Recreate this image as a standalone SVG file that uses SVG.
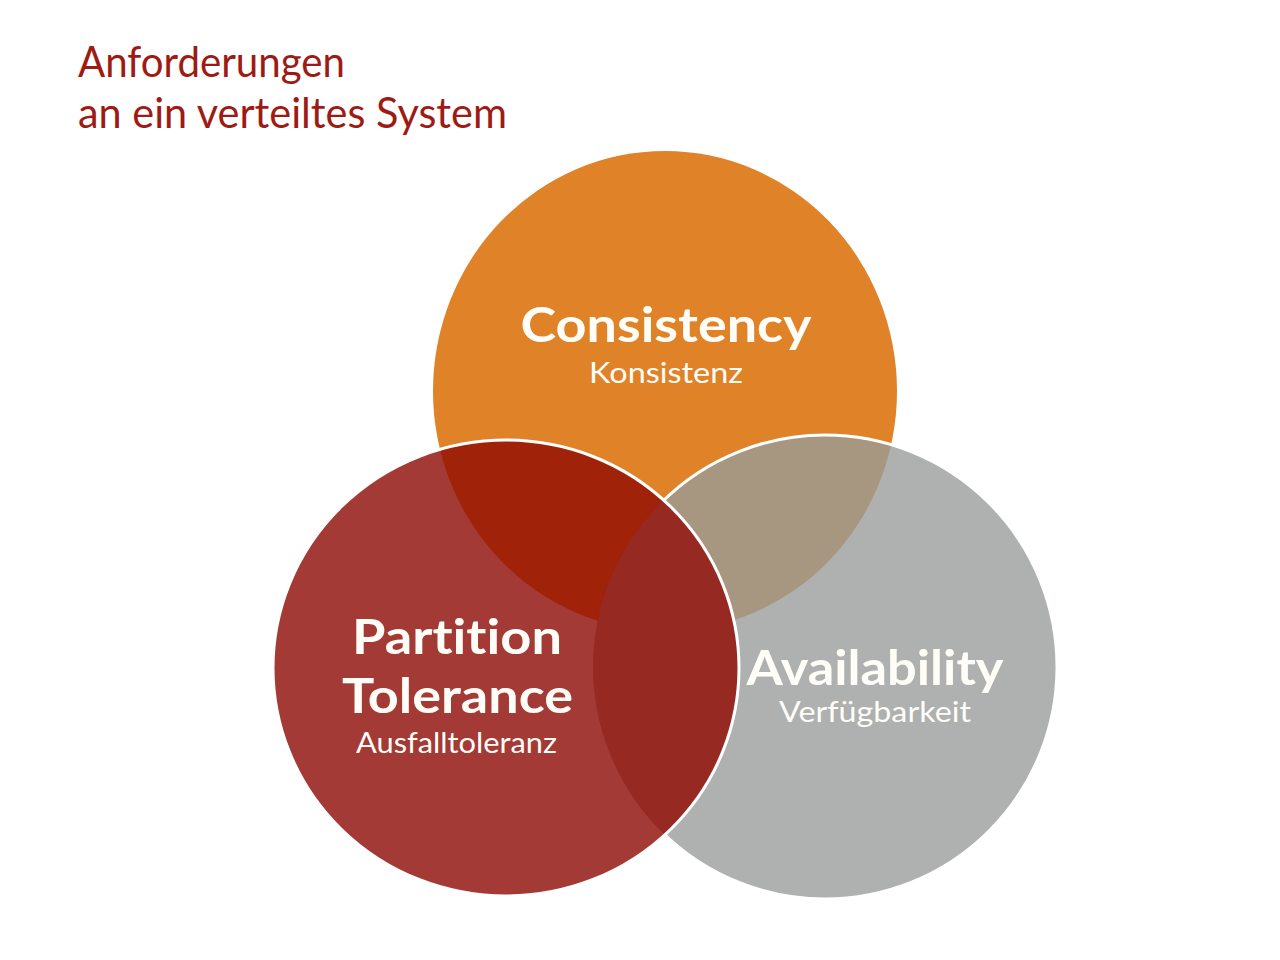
<svg xmlns="http://www.w3.org/2000/svg" width="1280" height="960" viewBox="0 0 1280 960">
  <style>
    text { font-variant-ligatures: none; font-feature-settings: "liga" 0, "dlig" 0; }
    .title { font-family: Lato, "Open Sans", "Liberation Sans", sans-serif; font-size: 42px; fill: #9E1B14; }
    .big { font-family: Lato, "Open Sans", "Liberation Sans", sans-serif; font-size: 48px; font-weight: bold; fill: #FFFDF8; text-anchor: middle; }
    .small { font-family: Lato, "Open Sans", "Liberation Sans", sans-serif; font-size: 29px; fill: #FFFDF8; text-anchor: middle; }
    .ring { fill: none; stroke: #FFFFFF; stroke-width: 3; }
  </style>
  <defs>
    <clipPath id="cpG"><ellipse cx="825" cy="667" rx="232" ry="232"/></clipPath>
    <clipPath id="cpR"><ellipse cx="506" cy="668" rx="233" ry="228"/></clipPath>
  </defs>
  <rect width="1280" height="960" fill="#FFFFFF"/>
  <g id="title">
    <text class="title" x="78" y="77" textLength="267" lengthAdjust="spacingAndGlyphs">Anforderungen</text>
    <text class="title" x="78" y="128" textLength="429" lengthAdjust="spacingAndGlyphs">an ein verteiltes System</text>
  </g>
  <g id="consistency">
    <ellipse cx="665" cy="391" rx="232" ry="240" fill="#E08228"/>
    <text class="big" x="666" y="342" textLength="291" lengthAdjust="spacingAndGlyphs">Consistency</text>
    <text class="small" x="666" y="383" textLength="154" lengthAdjust="spacingAndGlyphs">Konsistenz</text>
  </g>
  <g id="availability">
    <ellipse cx="825" cy="667" rx="232" ry="232" fill="#AEB1AF"/>
    <ellipse cx="665" cy="391" rx="232" ry="240" fill="#A89780" clip-path="url(#cpG)"/>
    <ellipse class="ring" cx="825" cy="667" rx="232" ry="232"/>
    <text class="big" x="875" y="685" textLength="257" lengthAdjust="spacingAndGlyphs">Availability</text>
    <text class="small" x="875" y="722" textLength="192" lengthAdjust="spacingAndGlyphs">Verfügbarkeit</text>
  </g>
  <g id="partition-tolerance">
    <ellipse cx="506" cy="668" rx="233" ry="228" fill="#A33A35"/>
    <ellipse cx="665" cy="391" rx="232" ry="240" fill="#A02209" clip-path="url(#cpR)"/>
    <ellipse cx="825" cy="667" rx="232" ry="232" fill="#962A22" clip-path="url(#cpR)"/>
    <ellipse class="ring" cx="506" cy="668" rx="233" ry="228"/>
    <text class="big" x="457" y="654" textLength="210" lengthAdjust="spacingAndGlyphs">Partition</text>
    <text class="big" x="457.5" y="713" textLength="231" lengthAdjust="spacingAndGlyphs">Tolerance</text>
    <text class="small" x="456.5" y="753" textLength="201" lengthAdjust="spacingAndGlyphs">Ausfalltoleranz</text>
  </g>
  <g id="connectors"/>
</svg>
